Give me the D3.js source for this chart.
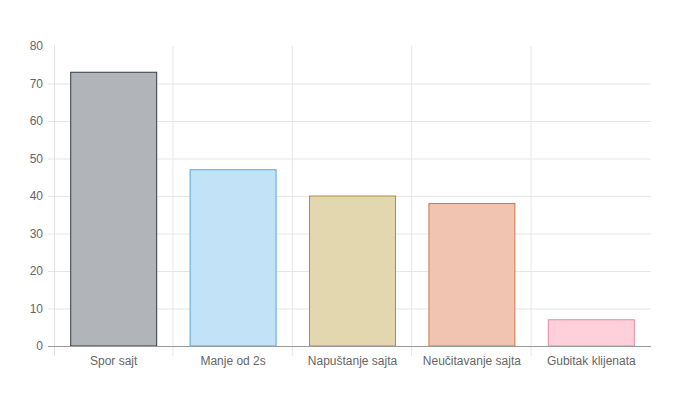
<!DOCTYPE html>
<meta charset="utf-8">
<script src="https://d3js.org/d3.v7.min.js"></script>
<style>
  body { margin: 0; background: #fff; }
  text { font-family: "Liberation Sans", Arial, sans-serif; }
</style>
<div id="chart"></div>
<script>

// data
var categories = ["Spor sajt", "Manje od 2s", "Napuštanje sajta", "Neučitavanje sajta", "Gubitak klijenata"];
var values = [73, 47, 40, 38, 7];
var yTicks = [0, 10, 20, 30, 40, 50, 60, 70, 80];
var fills = ["#b1b5b9", "#c2e2f7", "#e3d7b0", "#f0c4b1", "#ffcfda"];
var strokes = ["#343a40", "#5aa6d2", "#b08f35", "#c9794d", "#e38b9d"];

var margin = {top: 46, right: 49, bottom: 54, left: 54},
  width = 700 - margin.left - margin.right,
  height = 400 - margin.top - margin.bottom;

var svg = d3.select("#chart")
  .append("svg")
    .attr("width", 700)
    .attr("height", 400)
  .append("g")
    .attr("transform", "translate(" + margin.left + "," + margin.top + ")");

var x = d3.scaleBand()
  .domain(categories)
  .range([0, width])
  .paddingInner(0)
  .paddingOuter(0);

var y = d3.scaleLinear()
  .domain([0, 80])
  .range([height, 0]);

// horizontal grid
svg.append("g")
  .selectAll("line")
  .data(yTicks.filter(function(d){ return d > 0 && d < 80; }))
  .enter()
  .append("line")
    .attr("x1", -6).attr("x2", width)
    .attr("y1", function(d){ return y(d) + 0.5; })
    .attr("y2", function(d){ return y(d) + 0.5; })
    .attr("stroke", "#e6e6e6");

// vertical grid (category boundaries)
svg.append("g")
  .selectAll("line")
  .data(categories.slice(1))
  .enter()
  .append("line")
    .attr("x1", function(d){ return x(d) - 0.5; })
    .attr("x2", function(d){ return x(d) - 0.5; })
    .attr("y1", 0).attr("y2", height + 10)
    .attr("stroke", "#e6e6e6");

// left axis line
svg.append("line")
  .attr("x1", 0.5).attr("x2", 0.5)
  .attr("y1", 0).attr("y2", height + 10)
  .attr("stroke", "#e0e0e0");

// y labels
svg.append("g")
  .selectAll("text")
  .data(yTicks)
  .enter()
  .append("text")
    .attr("x", -11)
    .attr("y", function(d){ return y(d); })
    .attr("dy", "0.35em")
    .attr("text-anchor", "end")
    .style("font-size", "12px")
    .attr("fill", "#666")
    .text(function(d){ return d; });

// bars
var bw = x.bandwidth() * 0.72;
svg.append("g")
  .selectAll("rect")
  .data(values)
  .enter()
  .append("rect")
    .attr("x", function(d, i){ return x(categories[i]) + (x.bandwidth() - bw) / 2; })
    .attr("y", function(d){ return y(d); })
    .attr("width", bw)
    .attr("height", function(d){ return height - y(d); })
    .attr("fill", function(d, i){ return fills[i]; })
    .attr("stroke", function(d, i){ return strokes[i]; })
    .attr("stroke-width", 1);

// bottom axis line
svg.append("line")
  .attr("x1", -6).attr("x2", width)
  .attr("y1", height + 0.5).attr("y2", height + 0.5)
  .attr("stroke", "#999");

// x labels
svg.append("g")
  .selectAll("text")
  .data(categories)
  .enter()
  .append("text")
    .attr("x", function(d){ return x(d) + x.bandwidth() / 2; })
    .attr("y", height + 19)
    .attr("text-anchor", "middle")
    .style("font-size", "12px")
    .attr("fill", "#666")
    .text(function(d){ return d; });

</script>
